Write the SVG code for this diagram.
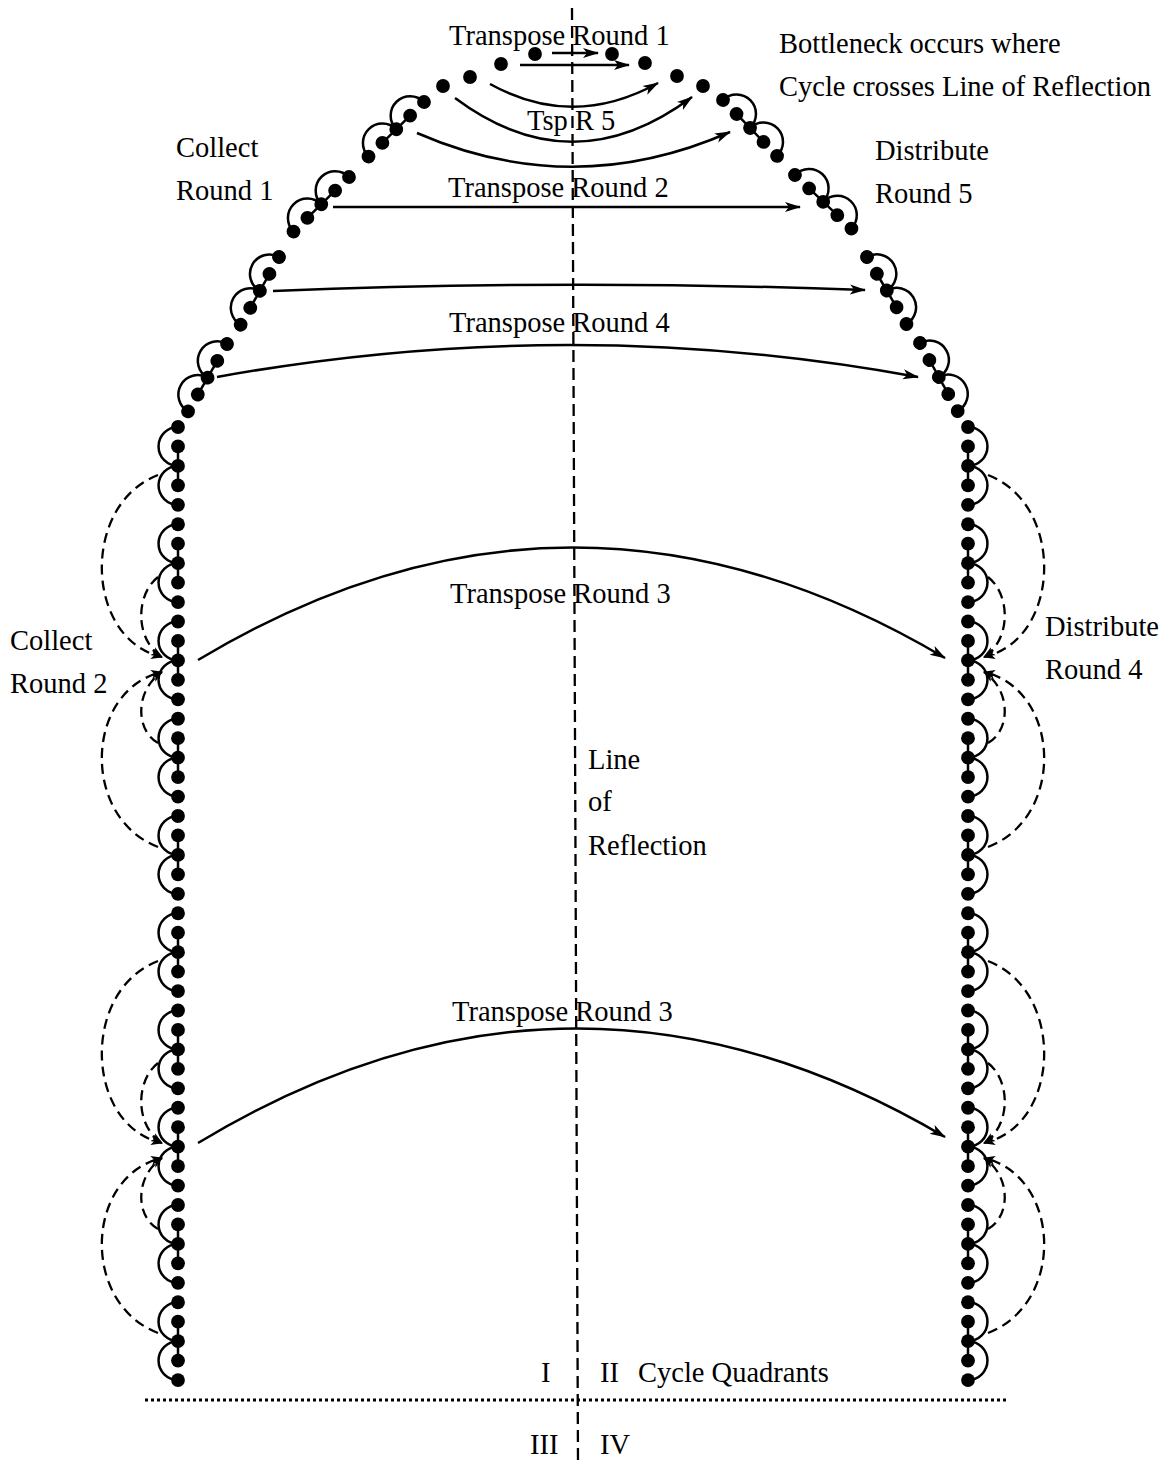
<svg xmlns="http://www.w3.org/2000/svg" xmlns:xlink="http://www.w3.org/1999/xlink" width="1171" height="1464" viewBox="0 0 1171 1464">
<style>
.t{font-family:"Liberation Serif","Times New Roman",serif;font-size:28.5px;fill:#000}
.sol{fill:none;stroke:#000;stroke-width:2.5}
.dsh{fill:none;stroke:#000;stroke-width:2.3;stroke-dasharray:10,6}
.d{fill:#000}
</style>
<defs>
<marker id="ah" markerWidth="18" markerHeight="12" refX="15" refY="6" orient="auto" markerUnits="userSpaceOnUse"><path d="M0,1 L16,6 L0,11 L4,6 z" fill="#000"/></marker>
<marker id="ahs" markerWidth="14" markerHeight="10" refX="11" refY="5" orient="auto" markerUnits="userSpaceOnUse"><path d="M0,0.5 L12,5 L0,9.5 L3,5 z" fill="#000"/></marker>
<g id="clL">
<path class="sol" d="M0,0 A19.45,19.45 0 0 0 0,38.9 A19.45,19.45 0 0 0 0,77.8"/>
<line x1="0" y1="19.45" x2="0" y2="58.35" stroke="#000" stroke-width="2.5"/>
<circle class="d" cx="0" cy="0" r="6.9"/><circle class="d" cx="0" cy="19.45" r="6.9"/><circle class="d" cx="0" cy="38.9" r="6.9"/><circle class="d" cx="0" cy="58.35" r="6.9"/><circle class="d" cx="0" cy="77.8" r="6.9"/>
</g>
<g id="clR">
<path class="sol" d="M0,0 A19.45,19.45 0 0 1 0,38.9 A19.45,19.45 0 0 1 0,77.8"/>
<line x1="0" y1="19.45" x2="0" y2="58.35" stroke="#000" stroke-width="2.5"/>
<circle class="d" cx="0" cy="0" r="6.9"/><circle class="d" cx="0" cy="19.45" r="6.9"/><circle class="d" cx="0" cy="38.9" r="6.9"/><circle class="d" cx="0" cy="58.35" r="6.9"/><circle class="d" cx="0" cy="77.8" r="6.9"/>
</g>
</defs>
<rect width="1171" height="1464" fill="#fff"/>

<g id="axes">
<line x1="572" y1="8" x2="578" y2="1464" stroke="#000" stroke-width="2.3" stroke-dasharray="12,6"/>
<line x1="145" y1="1400" x2="1008" y2="1400" stroke="#000" stroke-width="3" stroke-dasharray="3,3"/>
</g>

<g id="L0" transform="translate(178,427)"><use xlink:href="#clL"/></g>
<g id="L1" transform="translate(178,524.25)"><use xlink:href="#clL"/></g>
<g id="L2" transform="translate(178,621.5)"><use xlink:href="#clL"/></g>
<g id="L3" transform="translate(178,718.75)"><use xlink:href="#clL"/></g>
<g id="L4" transform="translate(178,816)"><use xlink:href="#clL"/></g>
<g id="L5" transform="translate(178,913.25)"><use xlink:href="#clL"/></g>
<g id="L6" transform="translate(178,1010.5)"><use xlink:href="#clL"/></g>
<g id="L7" transform="translate(178,1107.75)"><use xlink:href="#clL"/></g>
<g id="L8" transform="translate(178,1205)"><use xlink:href="#clL"/></g>
<g id="L9" transform="translate(178,1302.25)"><use xlink:href="#clL"/></g>
<g id="R0" transform="translate(968,427)"><use xlink:href="#clR"/></g>
<g id="R1" transform="translate(968,524.25)"><use xlink:href="#clR"/></g>
<g id="R2" transform="translate(968,621.5)"><use xlink:href="#clR"/></g>
<g id="R3" transform="translate(968,718.75)"><use xlink:href="#clR"/></g>
<g id="R4" transform="translate(968,816)"><use xlink:href="#clR"/></g>
<g id="R5" transform="translate(968,913.25)"><use xlink:href="#clR"/></g>
<g id="R6" transform="translate(968,1010.5)"><use xlink:href="#clR"/></g>
<g id="R7" transform="translate(968,1107.75)"><use xlink:href="#clR"/></g>
<g id="R8" transform="translate(968,1205)"><use xlink:href="#clR"/></g>
<g id="R9" transform="translate(968,1302.25)"><use xlink:href="#clR"/></g>
<g id="LD1" transform="translate(227,344) rotate(30)"><use xlink:href="#clL"/></g>
<g id="LD2" transform="translate(279,257) rotate(29.5)"><use xlink:href="#clL"/></g>
<g id="LD3" transform="translate(349,177) rotate(45.5)"><use xlink:href="#clL"/></g>
<g id="LD4" transform="translate(424,102) rotate(45.5)"><use xlink:href="#clL"/></g>
<g id="RD4" transform="translate(723,100) rotate(-44)"><use xlink:href="#clR"/></g>
<g id="RD3" transform="translate(795,175) rotate(-46.5)"><use xlink:href="#clR"/></g>
<g id="RD2" transform="translate(867,257) rotate(-30.5)"><use xlink:href="#clR"/></g>
<g id="RD1" transform="translate(920,343) rotate(-29)"><use xlink:href="#clR"/></g>
<g id="T1"><circle class="d" cx="443" cy="86" r="6.9"/></g>
<g id="T2"><circle class="d" cx="470" cy="77" r="6.9"/></g>
<g id="T3"><circle class="d" cx="501" cy="64" r="6.9"/></g>
<g id="T4"><circle class="d" cx="535" cy="54" r="6.9"/></g>
<g id="T5"><circle class="d" cx="612" cy="54" r="6.9"/></g>
<g id="T6"><circle class="d" cx="645" cy="63" r="6.9"/></g>
<g id="T7"><circle class="d" cx="677" cy="76" r="6.9"/></g>
<g id="T8"><circle class="d" cx="703" cy="86" r="6.9"/></g>

<g id="connectors">
<path class="sol" marker-end="url(#ah)" d="M552,53 L598,53"/>
<path class="sol" marker-end="url(#ah)" d="M520,65 L629,65"/>
<path class="sol" marker-end="url(#ah)" d="M490,84 Q573,130 658,83"/>
<path class="sol" marker-end="url(#ah)" d="M455,98 Q573,186 692,97"/>
<path class="sol" marker-end="url(#ah)" d="M417,133 Q573,201 730,132"/>
<path class="sol" marker-end="url(#ah)" d="M333,207 L800,207"/>
<path class="sol" marker-end="url(#ah)" d="M273,291 Q570,279 865,290"/>
<path class="sol" marker-end="url(#ah)" d="M217,377 Q570,313 918,377"/>
<path class="sol" marker-end="url(#ah)" d="M198,660 Q571,436 945,658"/>
<path class="sol" marker-end="url(#ah)" d="M198,1143 Q572,917 945,1137"/>
<path class="dsh" marker-end="url(#ahs)" d="M158,475 C80,505 85,640 162,657"/>
<path class="dsh" marker-end="url(#ahs)" d="M158,577 C135,595 135,640 162,657"/>
<path class="dsh" marker-end="url(#ahs)" d="M158,847 C80,817 85,690 162,672"/>
<path class="dsh" marker-end="url(#ahs)" d="M158,743 C135,730 135,690 162,672"/>
<path class="dsh" marker-end="url(#ahs)" d="M158,961 C80,991 85,1126 162,1143"/>
<path class="dsh" marker-end="url(#ahs)" d="M158,1063 C135,1081 135,1126 162,1143"/>
<path class="dsh" marker-end="url(#ahs)" d="M158,1333 C80,1303 85,1176 162,1158"/>
<path class="dsh" marker-end="url(#ahs)" d="M158,1229 C135,1216 135,1176 162,1158"/>
<path class="dsh" marker-end="url(#ahs)" d="M988,475 C1066,505 1061,640 984,657"/>
<path class="dsh" marker-end="url(#ahs)" d="M988,577 C1011,595 1011,640 984,657"/>
<path class="dsh" marker-end="url(#ahs)" d="M988,847 C1066,817 1061,690 984,672"/>
<path class="dsh" marker-end="url(#ahs)" d="M988,743 C1011,730 1011,690 984,672"/>
<path class="dsh" marker-end="url(#ahs)" d="M988,961 C1066,991 1061,1126 984,1143"/>
<path class="dsh" marker-end="url(#ahs)" d="M988,1063 C1011,1081 1011,1126 984,1143"/>
<path class="dsh" marker-end="url(#ahs)" d="M988,1333 C1066,1303 1061,1176 984,1158"/>
<path class="dsh" marker-end="url(#ahs)" d="M988,1229 C1011,1216 1011,1176 984,1158"/>
</g>

<g id="labels">
<text class="t" x="449" y="45">Transpose Round 1</text>
<text class="t" x="779" y="53">Bottleneck occurs where</text>
<text class="t" x="779" y="96">Cycle crosses Line of Reflection</text>
<text class="t" x="527" y="130">Tsp R 5</text>
<text class="t" x="176" y="157">Collect</text>
<text class="t" x="176" y="200">Round 1</text>
<text class="t" x="875" y="160">Distribute</text>
<text class="t" x="875" y="203">Round 5</text>
<text class="t" x="448" y="197">Transpose Round 2</text>
<text class="t" x="449" y="332">Transpose Round 4</text>
<text class="t" x="450" y="603">Transpose Round 3</text>
<text class="t" x="10" y="650">Collect</text>
<text class="t" x="10" y="693">Round 2</text>
<text class="t" x="1045" y="636">Distribute</text>
<text class="t" x="1045" y="679">Round 4</text>
<text class="t" x="588" y="769">Line</text>
<text class="t" x="588" y="811">of</text>
<text class="t" x="588" y="855">Reflection</text>
<text class="t" x="452" y="1021">Transpose Round 3</text>
<text class="t" x="541" y="1382">I</text>
<text class="t" x="600" y="1382">II</text>
<text class="t" x="638" y="1382">Cycle Quadrants</text>
<text class="t" x="530" y="1454">III</text>
<text class="t" x="600" y="1454">IV</text>
</g>
</svg>
